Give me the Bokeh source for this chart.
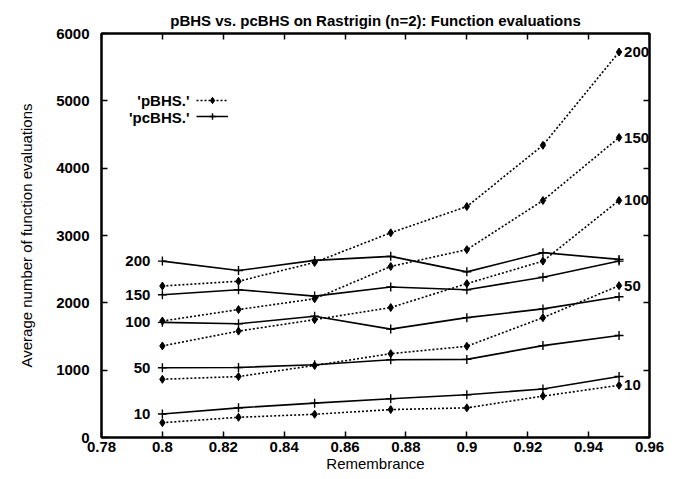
from bokeh.plotting import figure
from bokeh.models import (LinearAxis, FixedTicker, Range1d, Label, Legend, LegendItem,
                          ColumnDataSource, CustomJSTickFormatter)
from bokeh.core.properties import value
from bokeh.embed import file_html
from bokeh.resources import INLINE

remembrance = [0.8, 0.825, 0.85, 0.875, 0.9, 0.925, 0.95]
sizes = ["200", "150", "100", "50", "10"]

pbhs_200 = [2250, 2320, 2600, 3040, 3430, 4340, 5725]
pbhs_150 = [1730, 1900, 2060, 2540, 2790, 3520, 4455]
pbhs_100 = [1360, 1580, 1750, 1930, 2285, 2620, 3520]
pbhs_50 = [865, 905, 1070, 1245, 1355, 1780, 2255]
pbhs_10 = [220, 300, 345, 415, 440, 615, 775]

pcbhs_200 = [2620, 2480, 2630, 2690, 2460, 2745, 2645]
pcbhs_150 = [2120, 2195, 2100, 2235, 2195, 2380, 2620]
pcbhs_100 = [1710, 1690, 1800, 1610, 1780, 1910, 2090]
pcbhs_50 = [1035, 1040, 1080, 1155, 1160, 1365, 1515]
pcbhs_10 = [350, 440, 510, 575, 635, 720, 905]

x_ticks = [0.78, 0.8, 0.82, 0.84, 0.86, 0.88, 0.9, 0.92, 0.94, 0.96]
y_ticks = [0, 1000, 2000, 3000, 4000, 5000, 6000]

pbhs = [pbhs_200, pbhs_150, pbhs_100, pbhs_50, pbhs_10]
pcbhs = [pcbhs_200, pcbhs_150, pcbhs_100, pcbhs_50, pcbhs_10]

FONT = "Liberation Sans"

p = figure(width=683, height=479, output_backend="svg", toolbar_location=None,
           x_range=Range1d(0.78, 0.96), y_range=Range1d(0, 6000),
           min_border_left=101, min_border_right=34, min_border_top=33, min_border_bottom=42,
           title="pBHS vs. pcBHS on Rastrigin (n=2): Function evaluations")
p.title.align = "center"
p.title.text_font = FONT
p.title.text_font_size = "15px"
p.title.text_font_style = "bold"
p.title.text_color = "black"
p.title.offset = 0
p.grid.visible = False
p.outline_line_color = "black"
p.outline_line_width = 2
p.background_fill_color = "white"
p.border_fill_color = "white"

for ax in (p.xaxis[0], p.yaxis[0]):
    ax.major_tick_in = 6
    ax.major_tick_out = 0
    ax.minor_tick_line_color = None
    ax.axis_line_width = 2
    ax.major_tick_line_width = 1.5
    ax.major_label_text_font = FONT
    ax.major_label_text_font_size = "15px"
    ax.major_label_text_font_style = "bold"
    ax.major_label_text_color = "black"
    ax.axis_label_text_font = FONT
    ax.axis_label_text_font_size = "15px"
    ax.axis_label_text_font_style = "normal"
    ax.axis_label_text_color = "black"

p.xaxis[0].ticker = FixedTicker(ticks=x_ticks)
p.yaxis[0].ticker = FixedTicker(ticks=y_ticks)
p.xaxis[0].axis_label = "Remembrance"
p.yaxis[0].axis_label = "Average number of function evaluations"
p.xaxis[0].major_label_standoff = 4
p.xaxis[0].axis_label_standoff = 0
p.yaxis[0].major_label_standoff = 12
p.yaxis[0].axis_label_standoff = 18

blank = CustomJSTickFormatter(code="return '';")
top = LinearAxis(ticker=FixedTicker(ticks=x_ticks), major_tick_in=6, major_tick_out=0,
                 minor_tick_line_color=None, formatter=blank,
                 axis_line_width=2, major_tick_line_width=1.5, major_label_standoff=0)
right = LinearAxis(ticker=FixedTicker(ticks=y_ticks), major_tick_in=6, major_tick_out=0,
                   minor_tick_line_color=None, formatter=blank,
                   axis_line_width=2, major_tick_line_width=1.5, major_label_standoff=0)
p.add_layout(top, "above")
p.add_layout(right, "right")

r_p = None
r_c = None
for vals in pbhs:
    src = ColumnDataSource(dict(x=remembrance, y=vals))
    l = p.line("x", "y", source=src, line_color="black", line_width=1.6, line_dash="2 2")
    m = p.scatter("x", "y", source=src, marker="diamond", size=8, fill_color="black", line_color="black")
    r_p = (l, m)
for vals in pcbhs:
    src = ColumnDataSource(dict(x=remembrance, y=vals))
    l = p.line("x", "y", source=src, line_color="black", line_width=1.6)
    m = p.scatter("x", "y", source=src, marker="cross", size=9, line_color="black", line_width=1.4)
    r_c = (l, m)

# size labels
left_src = ColumnDataSource(dict(x=[remembrance[0]] * len(sizes), y=[v[0] for v in pcbhs], t=sizes))
p.text("x", "y", text="t", source=left_src, text_align="right", text_baseline="middle",
       x_offset=-12, text_font=value(FONT), text_font_size="15px", text_font_style="bold", text_color="black")
right_src = ColumnDataSource(dict(x=[remembrance[-1]] * len(sizes), y=[v[-1] for v in pbhs], t=sizes))
p.text("x", "y", text="t", source=right_src, text_align="left", text_baseline="middle",
       x_offset=5, text_font=value(FONT), text_font_size="15px", text_font_style="bold", text_color="black")

legend = Legend(items=[LegendItem(label=" ", renderers=list(r_p)), LegendItem(label=" ", renderers=list(r_c))],
                location=(95, 313), glyph_width=32, glyph_height=16, label_width=0, label_standoff=0,
                padding=0, spacing=0, margin=0, border_line_color=None, background_fill_alpha=0,
                label_text_font_size="1px")
p.add_layout(legend)
p.add_layout(Label(x=88, y=337, x_units="screen", y_units="screen", text="'pBHS.'", text_align="right",
                   text_baseline="middle", text_font=FONT, text_font_size="15px", text_font_style="bold",
                   text_color="black"))
p.add_layout(Label(x=88, y=320, x_units="screen", y_units="screen", text="'pcBHS.'", text_align="right",
                   text_baseline="middle", text_font=FONT, text_font_size="15px", text_font_style="bold",
                   text_color="black"))

open("out.html", "w").write(file_html(p, INLINE))
